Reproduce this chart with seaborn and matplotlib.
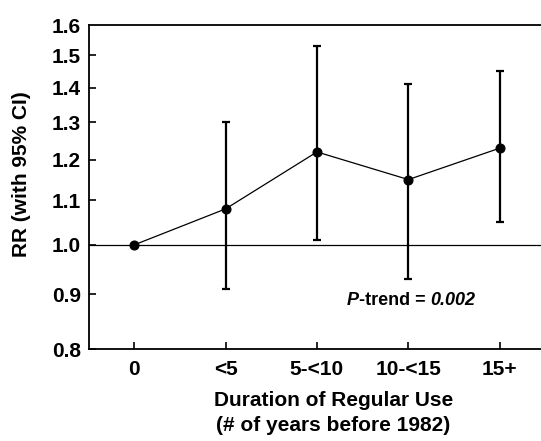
import seaborn as sns
import matplotlib.pyplot as plt
import numpy as np
from matplotlib.offsetbox import TextArea, HPacker, AnnotationBbox

sns.set_style("ticks")
plt.rcParams['font.family'] = ['Liberation Sans', 'DejaVu Sans']
plt.rcParams['font.weight'] = 'bold'
plt.rcParams['text.color'] = 'black'
plt.rcParams['axes.labelcolor'] = 'black'

# duration categories and relative risks
categories = ["0", "<5", "5-<10", "10-<15", "15+"]
rr = [1.00, 1.08, 1.22, 1.15, 1.23]
ci_low = [np.nan, 0.91, 1.01, 0.93, 1.05]
ci_high = [np.nan, 1.30, 1.53, 1.41, 1.45]
yticks = [0.8, 0.9, 1.0, 1.1, 1.2, 1.3, 1.4, 1.5, 1.6]

x = np.arange(len(categories))
rr_arr = np.array(rr)
err = np.vstack([rr_arr - np.array(ci_low), np.array(ci_high) - rr_arr])

fig = plt.figure(figsize=(5.41, 4.41), dpi=100)
ax = fig.add_axes([0.165, 0.208, 0.835, 0.735])

ax.axhline(1.0, color='black', lw=0.9, zorder=1)
ax.errorbar(x, rr_arr, yerr=err, fmt='none', ecolor='black', elinewidth=1.6,
            capsize=3, capthick=1.6, zorder=2)
sns.lineplot(x=x, y=rr, ax=ax, color='black', lw=0.9, marker='o',
             markersize=6.5, markeredgecolor='black', zorder=3)

ax.set_yscale('log')
ax.set_ylim(0.8, 1.6)
ax.set_xlim(-0.49, 4.45)
ax.set_yticks(yticks)
ax.set_yticklabels([f"{v:.1f}" for v in yticks])
ax.minorticks_off()
ax.set_xticks(x)
ax.set_xticklabels(categories)

ax.tick_params(axis='both', direction='in', length=5, width=1.2,
               labelsize=15, colors='black')
ax.tick_params(axis='x', pad=8)
ax.tick_params(axis='y', pad=6)
# no tick at the top value
ax.yaxis.get_major_ticks()[-1].tick1line.set_visible(False)

for side in ['left', 'bottom', 'top']:
    ax.spines[side].set_linewidth(1.3)
    ax.spines[side].set_color('black')
ax.spines['right'].set_visible(False)

ax.set_ylabel("RR (with 95% CI)", fontsize=15, fontweight='bold')
ax.yaxis.set_label_coords(-0.128, 0.541)
ax.set_xlabel("Duration of Regular Use\n(# of years before 1982)",
              fontsize=15, fontweight='bold', linespacing=1.38)
ax.xaxis.set_label_coords(0.54, -0.13)
ax.xaxis.label.set_va('top')

parts = [TextArea("P", textprops=dict(fontsize=13, fontweight='bold', fontstyle='italic')),
         TextArea("-trend = ", textprops=dict(fontsize=13, fontweight='bold')),
         TextArea("0.002", textprops=dict(fontsize=13, fontweight='bold', fontstyle='italic'))]
box = HPacker(children=parts, align='baseline', pad=0, sep=0)
ab = AnnotationBbox(box, (0.57, 0.15), xycoords='axes fraction',
                    box_alignment=(0, 0.5), frameon=False)
ax.add_artist(ab)

fig.savefig('out.png', dpi=100)
